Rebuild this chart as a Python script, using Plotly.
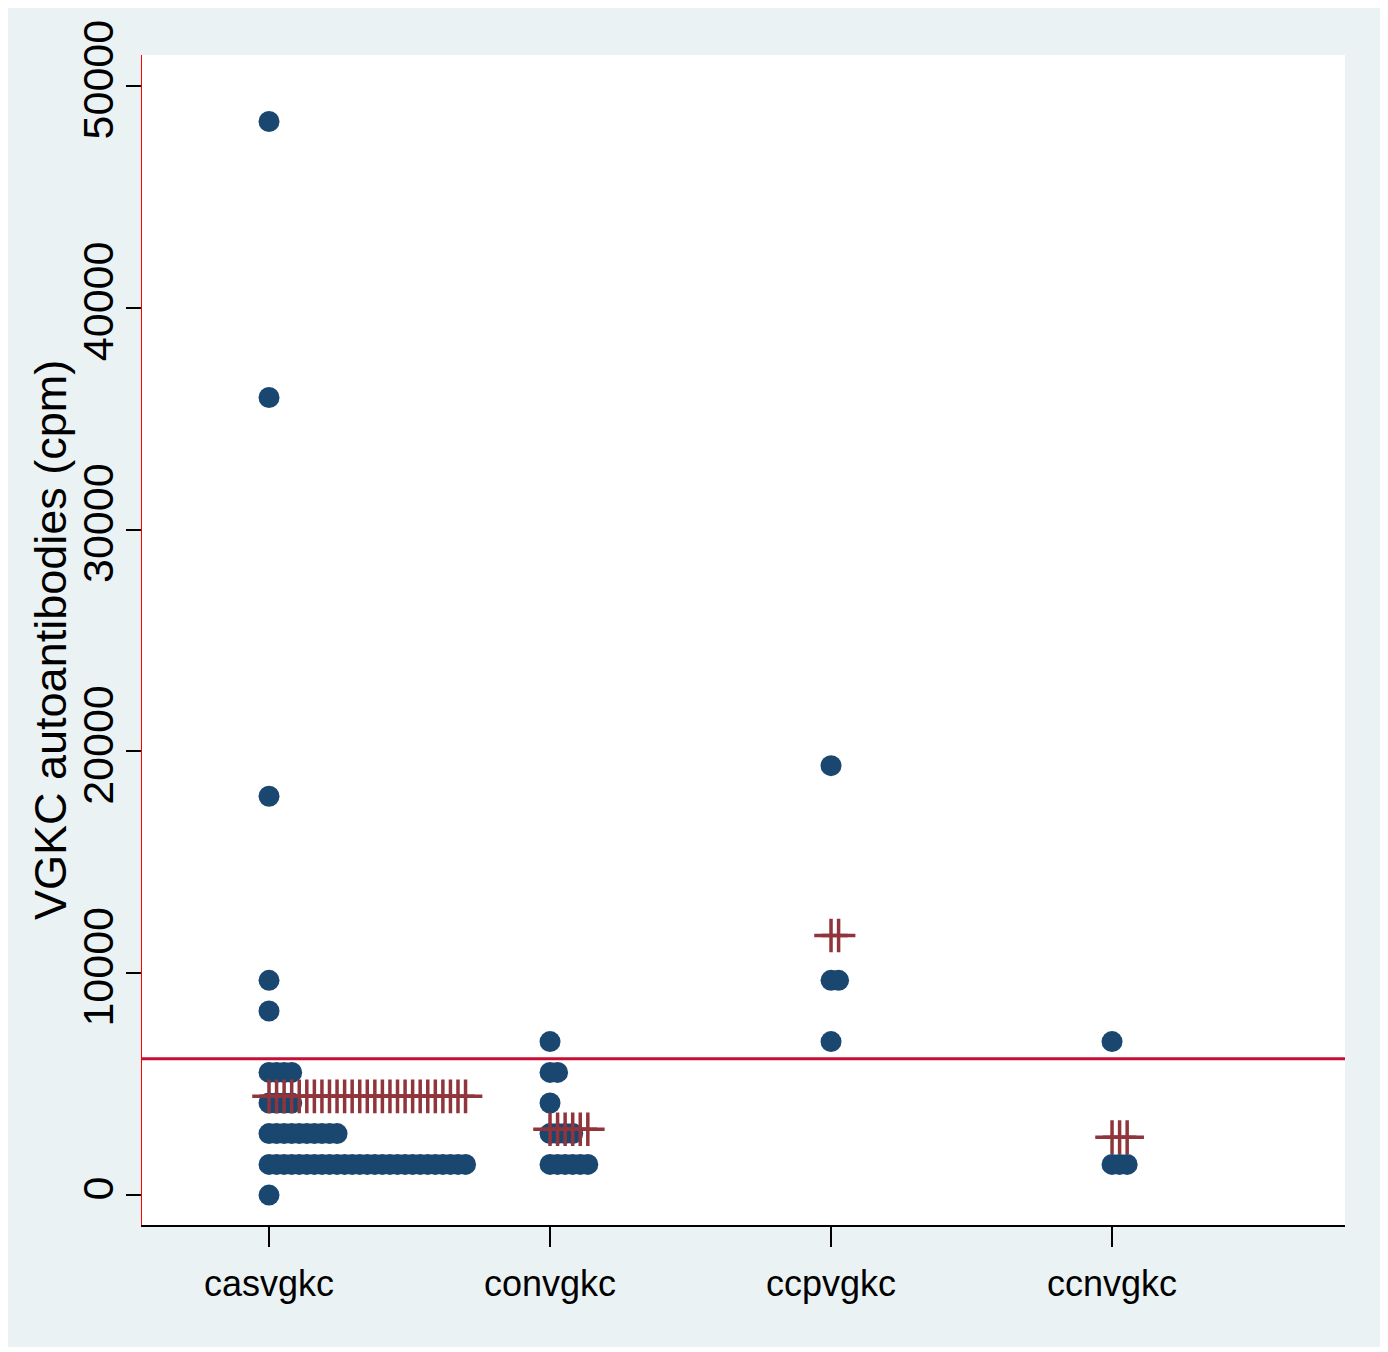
import plotly.graph_objects as go

# ---------------- data ----------------
groups = ["casvgkc", "convgkc", "ccpvgkc", "ccnvgkc"]

cas_levels = [48400, 35960, 17980, 9680, 8300, 5530, 4150, 2770, 1380, 0]
cas_counts = [1, 1, 1, 1, 1, 4, 4, 10, 27, 1]

conv_levels = [6920, 5530, 4150, 2770, 1380]
conv_counts = [1, 2, 1, 4, 6]

ccp_levels = [19360, 9680, 6920]
ccp_counts = [1, 2, 1]

ccn_levels = [6920, 1380]
ccn_counts = [1, 3]

group_means = [4450, 2970, 11700, 2610]
cutoff = 6150

y_ticks = [0, 10000, 20000, 30000, 40000, 50000]
y_title = "VGKC autoantibodies (cpm)"

# ---------------- styling ----------------
NAVY = "rgb(26,71,111)"
MAROON = "rgb(144,53,59)"
CRIMSON = "rgb(200,14,50)"
BG = "rgb(234,242,243)"
DX = 0.0269  # horizontal step between stacked dots (axis units)

levels_all = [cas_levels, conv_levels, ccp_levels, ccn_levels]
counts_all = [cas_counts, conv_counts, ccp_counts, ccn_counts]

fig = go.Figure()

for gi, (levels, counts) in enumerate(zip(levels_all, counts_all)):
    pos = gi + 1
    xs, ys = [], []
    for v, c in zip(levels, counts):
        for k in range(c):
            xs.append(pos + k * DX)
            ys.append(v)
    fig.add_trace(go.Scatter(
        x=xs, y=ys, mode="markers",
        marker=dict(symbol="circle", size=21, color=NAVY, line=dict(width=0)),
        showlegend=False, hoverinfo="skip"))

for gi, (m, counts) in enumerate(zip(group_means, counts_all)):
    pos = gi + 1
    nmax = max(counts)
    xs = [pos + k * DX for k in range(nmax)]
    fig.add_trace(go.Scatter(
        x=xs, y=[m] * nmax, mode="markers",
        marker=dict(symbol="cross-thin", size=24, color=MAROON,
                    line=dict(width=3.5, color=MAROON)),
        showlegend=False, hoverinfo="skip"))

fig.add_shape(type="line", xref="paper", yref="y", x0=0, x1=1,
              y0=cutoff, y1=cutoff, line=dict(color=CRIMSON, width=3),
              layer="above")

L, R, T, B = 134, 35, 41, 122
W, H = 1372, 1339
pw = W - L - R

fig.add_annotation(
    text=y_title, xref="paper", yref="paper",
    x=(42 - L) / pw, y=0.5, xanchor="center", yanchor="middle",
    textangle=-90, showarrow=False,
    font=dict(size=45, family="Liberation Sans, Arial, sans-serif", color="black"),
)

fig.update_layout(
    width=W, height=H,
    margin=dict(l=L, r=R, t=T, b=B),
    paper_bgcolor=BG, plot_bgcolor="white",
    font=dict(family="Liberation Sans, Arial, sans-serif", color="black"),
)

fig.update_xaxes(
    range=[0.548, 4.829],
    tickvals=[1, 2, 3, 4], ticktext=groups,
    tickfont=dict(family="Liberation Sans, Arial, sans-serif", size=36),
    ticks="outside", ticklen=20, tickwidth=1.5, tickcolor="black",
    showline=True, linecolor="black", linewidth=2,
    showgrid=False, zeroline=False, ticklabelstandoff=6,
)

fig.update_yaxes(
    range=[-1350, 51400],
    tickvals=y_ticks, ticktext=[str(v) for v in y_ticks],
    tickangle=-90,
    tickfont=dict(size=43),
    ticks="outside", ticklen=15, tickwidth=1.5, tickcolor="black",
    showline=True, linecolor="red", linewidth=1,
    showgrid=False, zeroline=False, ticklabelstandoff=-4,
)

fig.write_html("out.html")
